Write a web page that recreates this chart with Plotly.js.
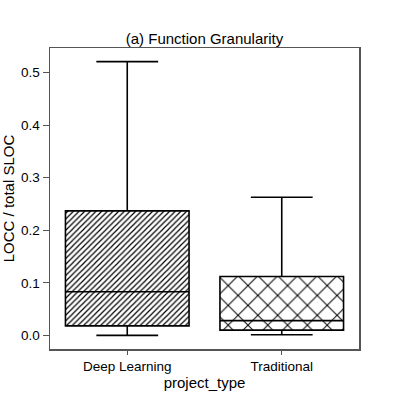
<!DOCTYPE html>
<html>
<head>
<meta charset="utf-8">
<script src="https://cdn.plot.ly/plotly-3.0.1.min.js"></script>
<style>
  html, body { margin: 0; padding: 0; background: #fff; }
  #chart { width: 399px; height: 399px; }
</style>
</head>
<body>
<div id="chart"></div>
<script>
// ── Data: box summary per project type ──────────────────────────────────────
const categories = ['Deep Learning', 'Traditional'];
const lowerFence = [0.000, 0.001];
const q1Vals     = [0.018, 0.010];
const medians    = [0.083, 0.028];
const q3Vals     = [0.237, 0.112];
const upperFence = [0.521, 0.263];
const hatchShapes = ['/', 'x'];

const FONT = 'Liberation Sans, Arial, Helvetica, sans-serif';

// ── Hatched fill (bars from q1 to q3) ───────────────────────────────────────
const hatch = {
  type: 'bar',
  x: categories,
  base: q1Vals,
  y: q3Vals.map((q, i) => q - q1Vals[i]),
  width: 0.8,
  marker: {
    color: '#fff',
    line: { width: 0 },
    pattern: { shape: hatchShapes, fgcolor: '#000', bgcolor: '#fff', size: [4, 14], solidity: [0.3, 0.14] }
  },
  hoverinfo: 'skip',
  showlegend: false
};

// ── Box outline, median and whiskers ────────────────────────────────────────
const box = {
  type: 'box',
  x: categories,
  q1: q1Vals,
  median: medians,
  q3: q3Vals,
  lowerfence: lowerFence,
  upperfence: upperFence,
  width: 0.8,
  whiskerwidth: 0.5,
  fillcolor: 'rgba(0,0,0,0)',
  line: { color: '#000', width: 1.6 },
  showlegend: false
};

const layout = {
  width: 399, height: 399,
  paper_bgcolor: '#fff',
  plot_bgcolor: '#fff',
  margin: { l: 50, r: 40, t: 48, b: 50 },
  font: { family: FONT, size: 13.5, color: '#000' },
  title: { text: '(a) Function Granularity', xref: 'paper', x: 0.5, xanchor: 'center',
           y: 0.902, yanchor: 'middle',
           font: { family: FONT, size: 15, color: '#000' } },
  xaxis: {
    type: 'category',
    range: [-0.5, 1.5],
    showgrid: false, zeroline: false,
    showline: true, linecolor: '#555', linewidth: 1.5, mirror: true,
    ticks: 'outside', ticklen: 4, tickcolor: '#555',
    tickfont: { family: FONT, size: 13.5 },
    title: { text: 'project_type', standoff: 2, font: { family: FONT, size: 15 } }
  },
  yaxis: {
    range: [-0.026, 0.547],
    tickvals: [0, 0.1, 0.2, 0.3, 0.4, 0.5],
    tickformat: '.1f',
    showgrid: false, zeroline: false,
    showline: true, linecolor: '#555', linewidth: 1.5, mirror: true,
    ticks: 'outside', ticklen: 6, tickcolor: '#555',
    tickfont: { family: FONT, size: 13.5 },
    title: { text: 'LOCC / total SLOC', standoff: 6, font: { family: FONT, size: 15 } }
  },
  barmode: 'overlay',
  boxmode: 'overlay'
};

Plotly.newPlot('chart', [hatch, box], layout, { displayModeBar: false, staticPlot: true });
</script>
</body>
</html>
